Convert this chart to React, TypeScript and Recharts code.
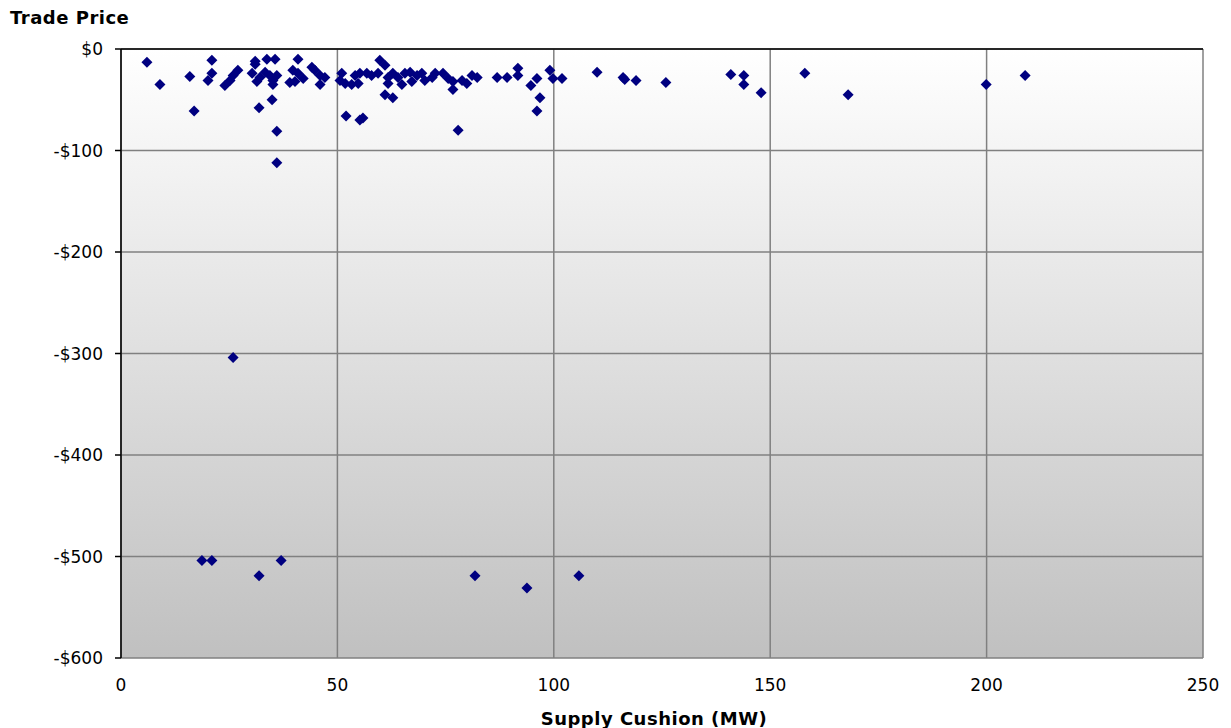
import { ScatterChart, Scatter, XAxis, YAxis, CartesianGrid, ReferenceLine, Label } from 'recharts';

// supply cushion (MW) for each trade
const supplyCushion = [
    6.0, 9.0, 15.9, 16.9, 21.0, 21.0, 20.1, 24.0, 25.2, 25.9,
    27.0, 25.9, 18.7, 21.0, 31.9, 37.0, 31.0, 31.0, 33.7, 35.6,
    40.9, 30.3, 32.1, 31.4, 33.3, 34.4, 35.1, 36.0, 35.1, 31.9,
    34.9, 36.0, 36.0, 39.7, 40.9, 39.0, 40.2, 42.1, 44.1, 44.8,
    46.0, 47.1, 46.0, 51.0, 50.6, 51.8, 52.0, 54.1, 55.2, 56.8,
    57.9, 59.4, 53.3, 54.8, 55.2, 55.9, 59.8, 61.0, 61.7, 62.8,
    64.0, 65.6, 66.8, 68.4, 69.5, 70.2, 71.9, 61.7, 64.9, 67.2,
    61.0, 62.8, 72.6, 74.4, 75.6, 76.7, 76.7, 77.9, 78.8, 79.9,
    81.1, 82.3, 81.8, 86.9, 89.2, 91.7, 91.7, 94.7, 96.1, 96.8,
    96.1, 93.8, 99.1, 99.8, 101.9, 105.8, 110.0, 116.0, 116.4, 119.0,
    125.9, 140.9, 143.9, 143.9, 147.9, 158.0, 168.0, 199.9, 208.9,
];

// trade price ($)
const tradePrice = [
    -13, -35, -27, -61, -11, -24, -31, -36, -31, -26,
    -21, -304, -504, -504, -519, -504, -12, -15, -10, -10,
    -10, -24, -28, -32, -23, -26, -31, -26, -35, -58,
    -50, -81, -112, -21, -24, -33, -32, -29, -18, -21,
    -26, -28, -35, -24, -31, -34, -66, -26, -24, -24,
    -26, -24, -35, -34, -70, -68, -11, -16, -28, -24,
    -28, -24, -23, -26, -24, -31, -28, -34, -35, -32,
    -45, -48, -24, -24, -29, -32, -40, -80, -31, -34,
    -26, -28, -519, -28, -28, -19, -26, -36, -29, -48,
    -61, -531, -21, -29, -29, -519, -23, -28, -30, -31,
    -33, -25, -26, -35, -43, -24, -45, -35, -26,
];

const xTicks = [0, 50, 100, 150, 200, 250];
const yTicks = [0, -100, -200, -300, -400, -500, -600];

const trades = supplyCushion.map((x, i) => ({ x, y: tradePrice[i] }));

const fmtPrice = (v: number) => (v < 0 ? `-$${Math.abs(v)}` : `$${v}`);

const font = "'DejaVu Sans', Verdana, sans-serif";

const Diamond = (props: any) => {
    const { cx, cy } = props;
    const r = 5.5;
    return <path d={`M${cx},${cy - r}L${cx + r},${cy}L${cx},${cy + r}L${cx - r},${cy}Z`} fill="#000080" />;
};

export default function App() {
    return (
        <div style={{ position: 'absolute', left: 0, top: 0, width: 1231, height: 728 }}>
            <div style={{ position: 'absolute', left: 10, top: 7, fontFamily: font, fontWeight: 'bold', fontSize: 18, letterSpacing: 0.5, color: '#000' }}>
                Trade Price
            </div>
            <ScatterChart width={1231} height={728} margin={{ top: 49, right: 28, bottom: 0, left: 0 }}>
                <defs>
                    <linearGradient id="plotBg" x1="0" y1="0" x2="0" y2="1">
                        <stop offset="0%" stopColor="#ffffff" />
                        <stop offset="100%" stopColor="#c0c0c0" />
                    </linearGradient>
                </defs>
                <CartesianGrid stroke="#808080" strokeWidth={1.5} fill="url(#plotBg)" fillOpacity={1} />
                <XAxis
                    type="number"
                    dataKey="x"
                    domain={[0, 250]}
                    ticks={xTicks}
                    height={70}
                    axisLine={false}
                    tickLine={false}
                    tickSize={0}
                    tickMargin={21}
                    tick={{ fill: '#000', fontSize: 17, fontFamily: font }}
                >
                    <Label
                        value="Supply Cushion (MW)"
                        position="insideBottom"
                        offset={3}
                        dx={-8}
                        style={{ fill: '#000', fontSize: 18, letterSpacing: 0.5, fontWeight: 'bold', fontFamily: font }}
                    />
                </XAxis>
                <YAxis
                    type="number"
                    dataKey="y"
                    domain={[-600, 0]}
                    ticks={yTicks}
                    width={121}
                    axisLine={{ stroke: '#000', strokeWidth: 1.5 }}
                    tickLine={{ stroke: '#000', strokeWidth: 1.5 }}
                    tickSize={6}
                    tickMargin={12}
                    tickFormatter={fmtPrice}
                    tick={{ fill: '#000', fontSize: 17, fontFamily: font }}
                />
                <ReferenceLine y={0} stroke="#000" strokeWidth={1.5} />
                <Scatter data={trades} shape={Diamond} isAnimationActive={false} />
            </ScatterChart>
        </div>
    );
}
